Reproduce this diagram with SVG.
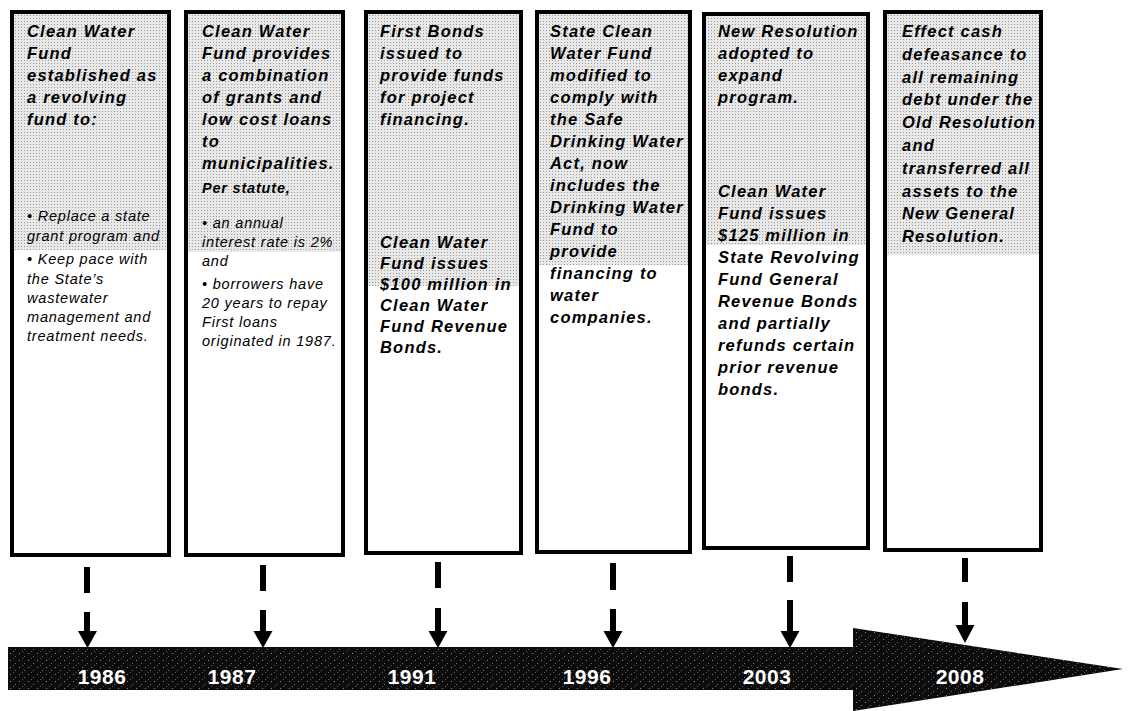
<svg xmlns="http://www.w3.org/2000/svg" width="1131" height="711" viewBox="0 0 1131 711">
<defs>
<pattern id="stip" width="3" height="3" patternUnits="userSpaceOnUse">
<rect width="3" height="3" fill="#e8e8e8"/>
<rect width="1" height="1" fill="#9a9a9a"/>
</pattern>
<pattern id="speck" width="9" height="7" patternUnits="userSpaceOnUse">
<rect width="9" height="7" fill="#0c0c0c"/>
<rect x="1" y="2" width="1" height="1" fill="#8a8a8a"/>
<rect x="6" y="5" width="1" height="1" fill="#6e6e6e"/>
<rect x="4" y="0" width="1" height="1" fill="#5a5a5a"/>
</pattern>
</defs>
<style>
.box{fill:#fff;stroke:#000;stroke-width:4}
.shade{fill:url(#stip)}
.h{font-family:"Liberation Sans",Arial,sans-serif;font-size:16.5px;font-weight:bold;font-style:italic;letter-spacing:1.2px;fill:#000}
.b{font-family:"Liberation Sans",Arial,sans-serif;font-size:14.5px;font-style:italic;letter-spacing:0.8px;fill:#000}
.bh{font-family:"Liberation Sans",Arial,sans-serif;font-size:14.5px;font-weight:bold;font-style:italic;letter-spacing:0.8px;fill:#000}
.yr{font-family:"Liberation Sans",Arial,sans-serif;font-size:21px;font-weight:bold;letter-spacing:0.5px;fill:#fff;text-anchor:middle}
.dash{stroke:#000;stroke-width:6;fill:none}
.head{fill:#000}
</style>
<rect width="1131" height="711" fill="#fff"/>

<g id="timeline">
<polygon points="8,647 853,647 853,628 1123,669 853,711 853,690 8,690" fill="url(#speck)"/>
<text class="yr" x="102" y="684">1986</text>
<text class="yr" x="232" y="684">1987</text>
<text class="yr" x="412" y="684">1991</text>
<text class="yr" x="587" y="684">1996</text>
<text class="yr" x="767" y="684">2003</text>
<text class="yr" x="960" y="684">2008</text>
</g>

<g id="connectors">
<line class="dash" x1="87" y1="567" x2="87" y2="593"/>
<line class="dash" x1="87" y1="612" x2="87" y2="634"/>
<polygon class="head" points="78,631 97,631 87.5,648"/>
<line class="dash" x1="263" y1="565" x2="263" y2="591"/>
<line class="dash" x1="263" y1="610" x2="263" y2="634"/>
<polygon class="head" points="253.5,631 272.5,631 263,648"/>
<line class="dash" x1="438" y1="562" x2="438" y2="588"/>
<line class="dash" x1="438" y1="608" x2="438" y2="634"/>
<polygon class="head" points="428.5,631 447.5,631 438,648"/>
<line class="dash" x1="613" y1="563" x2="613" y2="590"/>
<line class="dash" x1="613" y1="609" x2="613" y2="634"/>
<polygon class="head" points="603.5,631 622.5,631 613,648"/>
<line class="dash" x1="790" y1="556" x2="790" y2="582"/>
<line class="dash" x1="790" y1="600" x2="790" y2="631"/>
<polygon class="head" points="780.5,631 799.5,631 790,648"/>
<line class="dash" x1="965" y1="558" x2="965" y2="582"/>
<line class="dash" x1="965" y1="602" x2="965" y2="627"/>
<polygon class="head" points="955.5,625 974.5,625 965,643"/>
</g>

<g id="box1986">
<rect class="box" x="12" y="12" width="157" height="543"/>
<rect class="shade" x="14" y="14" width="153" height="236"/>
<text class="h"><tspan x="27" y="37">Clean Water</tspan><tspan x="27" y="59">Fund</tspan><tspan x="27" y="81">established as</tspan><tspan x="27" y="103">a revolving</tspan><tspan x="27" y="125">fund to:</tspan></text>
<text class="b"><tspan x="27" y="221">• Replace a state</tspan><tspan x="27" y="241">grant program and</tspan><tspan x="27" y="264">• Keep pace with</tspan><tspan x="27" y="284">the State’s</tspan><tspan x="27" y="303">wastewater</tspan><tspan x="27" y="322">management and</tspan><tspan x="27" y="341">treatment needs.</tspan></text>
</g>

<g id="box1987">
<rect class="box" x="186" y="12" width="157" height="543"/>
<rect class="shade" x="188" y="14" width="153" height="238"/>
<text class="h"><tspan x="202" y="37">Clean Water</tspan><tspan x="202" y="59">Fund provides</tspan><tspan x="202" y="81">a combination</tspan><tspan x="202" y="103">of grants and</tspan><tspan x="202" y="125">low cost loans</tspan><tspan x="202" y="147">to</tspan><tspan x="202" y="169">municipalities.</tspan></text>
<text class="bh" x="202" y="193">Per statute,</text>
<text class="b"><tspan x="202" y="228">• an annual</tspan><tspan x="202" y="247">interest rate is 2%</tspan><tspan x="202" y="266">and</tspan><tspan x="202" y="289">• borrowers have</tspan><tspan x="202" y="308">20 years to repay</tspan><tspan x="202" y="327">First loans</tspan><tspan x="202" y="346">originated in 1987.</tspan></text>
</g>

<g id="box1991">
<rect class="box" x="366" y="12" width="155" height="541"/>
<rect class="shade" x="368" y="14" width="151" height="272"/>
<text class="h"><tspan x="380" y="37">First Bonds</tspan><tspan x="380" y="59">issued to</tspan><tspan x="380" y="81">provide funds</tspan><tspan x="380" y="103">for project</tspan><tspan x="380" y="125">financing.</tspan></text>
<text class="h"><tspan x="380" y="248">Clean Water</tspan><tspan x="380" y="269">Fund issues</tspan><tspan x="380" y="290">$100 million in</tspan><tspan x="380" y="311">Clean Water</tspan><tspan x="380" y="332">Fund Revenue</tspan><tspan x="380" y="353">Bonds.</tspan></text>
</g>

<g id="box1996">
<rect class="box" x="537" y="12" width="153" height="540"/>
<rect class="shade" x="539" y="14" width="149" height="251"/>
<text class="h"><tspan x="550" y="37">State Clean</tspan><tspan x="550" y="59">Water Fund</tspan><tspan x="550" y="81">modified to</tspan><tspan x="550" y="103">comply with</tspan><tspan x="550" y="125">the Safe</tspan><tspan x="550" y="147">Drinking Water</tspan><tspan x="550" y="169">Act, now</tspan><tspan x="550" y="191">includes the</tspan><tspan x="550" y="213">Drinking Water</tspan><tspan x="550" y="235">Fund to</tspan><tspan x="550" y="257">provide</tspan><tspan x="550" y="279">financing to</tspan><tspan x="550" y="301">water</tspan><tspan x="550" y="323">companies.</tspan></text>
</g>

<g id="box2003">
<rect class="box" x="704" y="14" width="164" height="534"/>
<rect class="shade" x="706" y="16" width="160" height="229"/>
<text class="h"><tspan x="718" y="37">New Resolution</tspan><tspan x="718" y="59">adopted to</tspan><tspan x="718" y="81">expand</tspan><tspan x="718" y="103">program.</tspan></text>
<text class="h"><tspan x="718" y="197">Clean Water</tspan><tspan x="718" y="219">Fund issues</tspan><tspan x="718" y="241">$125 million in</tspan><tspan x="718" y="263">State Revolving</tspan><tspan x="718" y="285">Fund General</tspan><tspan x="718" y="307">Revenue Bonds</tspan><tspan x="718" y="329">and partially</tspan><tspan x="718" y="351">refunds certain</tspan><tspan x="718" y="373">prior revenue</tspan><tspan x="718" y="395">bonds.</tspan></text>
</g>

<g id="box2008">
<rect class="box" x="885" y="12" width="156" height="538"/>
<rect class="shade" x="887" y="14" width="152" height="241"/>
<text class="h"><tspan x="902" y="37">Effect cash</tspan><tspan x="902" y="60">defeasance to</tspan><tspan x="902" y="83">all remaining</tspan><tspan x="902" y="105">debt under the</tspan><tspan x="902" y="128">Old Resolution</tspan><tspan x="902" y="151">and</tspan><tspan x="902" y="174">transferred all</tspan><tspan x="902" y="197">assets to the</tspan><tspan x="902" y="219">New General</tspan><tspan x="902" y="242">Resolution.</tspan></text>
</g>
</svg>
